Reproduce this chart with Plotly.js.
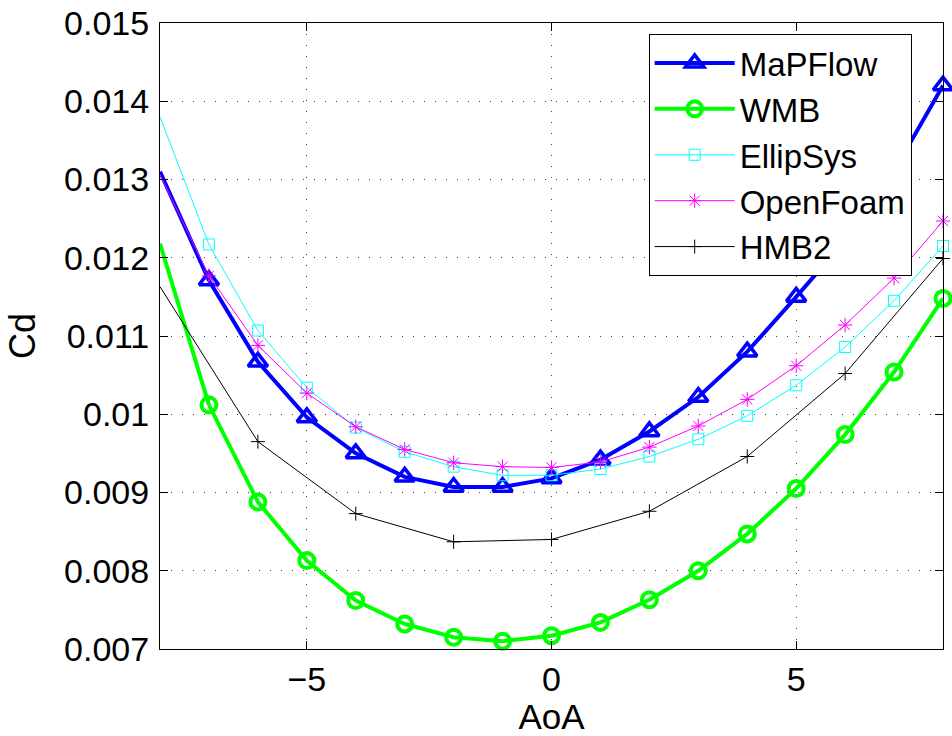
<!DOCTYPE html>
<html>
<head>
<meta charset="utf-8">
<script src="https://cdn.plot.ly/plotly-3.0.1.min.js"></script>
<style>html,body{margin:0;padding:0;background:#fff;}#chart{width:952px;height:736px;}</style>
</head>
<body>
<div id="chart"></div>
<script>
// AoA values (x=-8 is the value where each curve meets the left axis edge)
const aoaFull = [-8, -7, -6, -5, -4, -3, -2, -1, 0, 1, 2, 3, 4, 5, 6, 7, 8];
const aoaHMB2 = [-8, -6, -4, -2, 0, 2, 4, 6, 8];

const cdMaPFlow  = [0.01310, 0.01171, 0.01067, 0.00996, 0.00950, 0.00920, 0.00907, 0.00907, 0.00918, 0.00942, 0.00978, 0.01022, 0.01080, 0.01150, 0.01222, 0.01311, 0.01420];
const cdWMB      = [0.01218, 0.01012, 0.00888, 0.00813, 0.00762, 0.00732, 0.00715, 0.00710, 0.00717, 0.00734, 0.00763, 0.00800, 0.00847, 0.00905, 0.00974, 0.01054, 0.01148];
const cdEllipSys = [0.01380, 0.01217, 0.01107, 0.01034, 0.00983, 0.00952, 0.00933, 0.00922, 0.00922, 0.00930, 0.00946, 0.00968, 0.00998, 0.01037, 0.01086, 0.01145, 0.01215];
const cdOpenFoam = [0.01306, 0.01177, 0.01088, 0.01027, 0.00984, 0.00955, 0.00938, 0.00933, 0.00932, 0.00939, 0.00958, 0.00985, 0.01019, 0.01062, 0.01114, 0.01174, 0.01247];
const cdHMB2     = [0.01163, 0.00965, 0.00873, 0.00837, 0.00840, 0.00876, 0.00946, 0.01052, 0.01199];

const seriesNames = ["MaPFlow", "WMB", "EllipSys", "OpenFoam", "HMB2"];
const yTickVals = [0.007, 0.008, 0.009, 0.010, 0.011, 0.012, 0.013, 0.014, 0.015];
const yTickText = ["0.007", "0.008", "0.009", "0.01", "0.011", "0.012", "0.013", "0.014", "0.015"];
const xTickVals = [-5, 0, 5];

const FONT = "Liberation Sans, Arial, Helvetica, sans-serif";

const specs = [
  {name: seriesNames[0], x: aoaFull, y: cdMaPFlow, color: "#0000ff", lw: 4, sym: "triangle-up-open", ms: 17, mlw: 3.5},
  {name: seriesNames[1], x: aoaFull, y: cdWMB, color: "#00ff00", lw: 4, sym: "circle-open", ms: 15, mlw: 4},
  {name: seriesNames[2], x: aoaFull, y: cdEllipSys, color: "#00ffff", lw: 1, sym: "square-open", ms: 11, mlw: 1},
  {name: seriesNames[3], x: aoaFull, y: cdOpenFoam, color: "#ff00ff", lw: 1, sym: "asterisk-open", ms: 12, mlw: 1},
  {name: seriesNames[4], x: aoaHMB2, y: cdHMB2, color: "#000000", lw: 1, sym: "cross-thin-open", ms: 10, mlw: 1}
];

const traces = [];
// edge segments (no marker at the axis edge)
specs.forEach(s => {
  traces.push({
    x: s.x.slice(0, 2), y: s.y.slice(0, 2), mode: "lines", showlegend: false, hoverinfo: "skip",
    line: {color: s.color, width: s.lw}
  });
});
specs.forEach(s => {
  traces.push({
    x: s.x.slice(1), y: s.y.slice(1), name: s.name, mode: "lines+markers", cliponaxis: false,
    line: {color: s.color, width: s.lw},
    marker: {symbol: s.sym, size: s.ms, color: s.color, line: {color: s.color, width: s.mlw}}
  });
});

const layout = {
  width: 952, height: 736,
  margin: {l: 160, r: 9, t: 23, b: 87, pad: 0},
  paper_bgcolor: "#fff", plot_bgcolor: "#fff",
  font: {family: FONT, size: 34, color: "#000"},
  showlegend: true,
  legend: {
    x: 0.96, y: 0.9824, xanchor: "right", yanchor: "top",
    bgcolor: "#fff", bordercolor: "#000", borderwidth: 1,
    font: {family: FONT, size: 33, color: "#000"},
    itemwidth: 80, tracegroupgap: 0
  },
  xaxis: {
    range: [-8, 8], tickvals: xTickVals, ticks: "inside", ticklen: 8, tickcolor: "#000",
    showline: true, linecolor: "#000", linewidth: 1, mirror: "ticks",
    showgrid: true, gridcolor: "#444", gridwidth: 1, griddash: "1px,10px",
    zeroline: false, ticklabelstandoff: 0,
    tickfont: {family: FONT, size: 34, color: "#000"},
    title: {text: "AoA", font: {family: FONT, size: 35, color: "#000"}, standoff: 10}
  },
  yaxis: {
    range: [0.007, 0.015], tickvals: yTickVals, ticktext: yTickText, ticks: "inside", ticklen: 8, tickcolor: "#000",
    showline: true, linecolor: "#000", linewidth: 1, mirror: "ticks",
    showgrid: true, gridcolor: "#444", gridwidth: 1, griddash: "1px,10px",
    zeroline: false, ticklabelstandoff: 3,
    tickfont: {family: FONT, size: 34, color: "#000"},
    title: {text: "Cd", font: {family: FONT, size: 36, color: "#000"}, standoff: 17}
  }
};

Plotly.newPlot("chart", traces, layout, {displayModeBar: false, staticPlot: true});
</script>
</body>
</html>
